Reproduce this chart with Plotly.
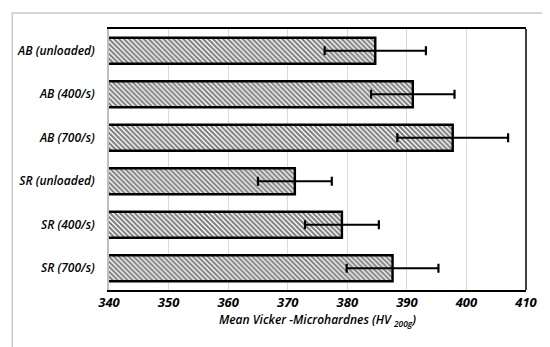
import plotly.graph_objects as go

categories = ["AB (unloaded)", "AB (400/s)", "AB (700/s)", "SR (unloaded)", "SR (400/s)", "SR (700/s)"]
means = [384.7, 391.0, 397.7, 371.2, 379.1, 387.6]
errors = [8.5, 7.0, 9.3, 6.2, 6.2, 7.7]
x_ticks = [340, 350, 360, 370, 380, 390, 400, 410]

FONT = "Open Sans"

fig = go.Figure()
fig.add_trace(go.Bar(
    y=categories, x=means, orientation="h",
    marker=dict(
        color="white",
        line=dict(color="black", width=2.4),
        pattern=dict(shape="\\", size=3.5, solidity=0.6, fgcolor="black", bgcolor="white"),
    ),
    error_x=dict(type="data", array=errors, visible=True, color="black", thickness=2.2, width=4.5),
    showlegend=False,
))

fig.update_layout(
    width=550, height=347,
    margin=dict(l=101, r=32, t=21, b=65, autoexpand=False),
    paper_bgcolor="white", plot_bgcolor="white",
    bargap=0.4,
    xaxis=dict(
        range=[340, 410], tickvals=x_ticks, ticktext=[str(v) for v in x_ticks],
        showgrid=True, gridcolor="#d9d9d9", gridwidth=1.2,
        showline=True, linecolor="black", linewidth=1.5, mirror=True,
        ticks="", zeroline=False, automargin=False,
        tickfont=dict(family=FONT, size=13, color="black", style="italic", weight="bold"),
        title=dict(text="Mean Vicker -Microhardnes (HV <sub>200g</sub>)", standoff=2,
                   font=dict(family=FONT, size=12, color="black", style="italic", weight=600)),
    ),
    yaxis=dict(
        autorange="reversed", automargin=False,
        showline=True, linecolor="#bfbfbf", linewidth=1.5,
        ticks="", ticklabelstandoff=10,
        tickfont=dict(family=FONT, size=12, color="black", style="italic", weight=600),
    ),
    shapes=[
        dict(type="line", xref="paper", yref="paper", x0=1, x1=1, y0=0, y1=1,
             line=dict(color="black", width=1.5)),
        dict(type="rect", xref="paper", yref="paper", x0=-0.232, x1=1.0625, y0=-0.231, y1=1.061,
             line=dict(color="#c8c8c8", width=1.5), layer="below"),
    ],
)

fig.write_html("out.html")
